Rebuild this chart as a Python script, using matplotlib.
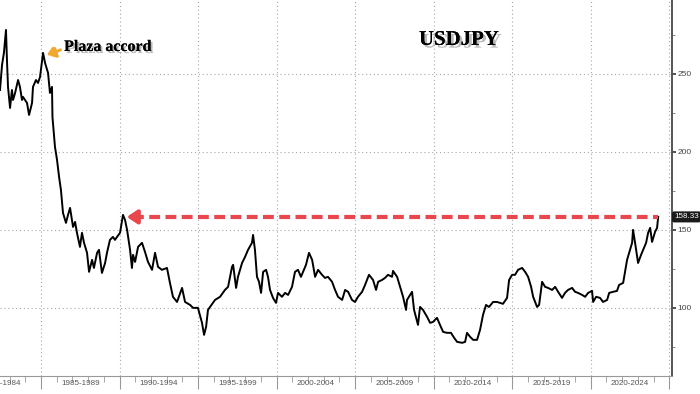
import numpy as np
import matplotlib
matplotlib.use("Agg")
import matplotlib.pyplot as plt
import matplotlib.patheffects as pe
from matplotlib.ticker import MultipleLocator, FixedLocator, NullFormatter

# USDJPY (fractional year, yen per dollar)
years = [1982.39, 1982.52, 1982.64, 1982.77, 1982.84, 1982.90, 1983.03, 1983.15, 1983.22, 1983.35,
         1983.54, 1983.66, 1983.79, 1983.85, 1984.11, 1984.24, 1984.43, 1984.49, 1984.68, 1984.81,
         1984.94, 1985.13, 1985.26, 1985.45, 1985.57, 1985.70, 1985.73, 1985.89, 1986.02, 1986.15,
         1986.27, 1986.40, 1986.59, 1986.72, 1986.85, 1987.04, 1987.17, 1987.29, 1987.48, 1987.61,
         1987.74, 1987.93, 1988.06, 1988.25, 1988.37, 1988.57, 1988.69, 1988.88, 1989.08, 1989.20,
         1989.39, 1989.58, 1989.71, 1989.84, 1990.03, 1990.22, 1990.35, 1990.48, 1990.67, 1990.79,
         1990.86, 1990.99, 1991.18, 1991.43, 1991.62, 1991.81, 1992.07, 1992.26, 1992.45, 1992.70,
         1993.02, 1993.21, 1993.40, 1993.66, 1993.98, 1994.17, 1994.49, 1994.68, 1994.99, 1995.25,
         1995.38, 1995.51, 1995.63, 1995.76, 1996.08, 1996.40, 1996.71, 1996.91, 1997.16, 1997.23,
         1997.42, 1997.54, 1997.80, 1997.99, 1998.18, 1998.43, 1998.50, 1998.62, 1998.75, 1998.88,
         1999.01, 1999.14, 1999.33, 1999.45, 1999.58, 1999.77, 1999.96, 2000.09, 2000.34, 2000.54,
         2000.73, 2000.98, 2001.17, 2001.36, 2001.55, 2001.68, 2001.87, 2002.06, 2002.26, 2002.45,
         2002.64, 2002.89, 2003.08, 2003.27, 2003.53, 2003.72, 2003.91, 2004.17, 2004.36, 2004.55,
         2004.80, 2004.99, 2005.18, 2005.44, 2005.63, 2005.88, 2006.14, 2006.33, 2006.46, 2006.71,
         2006.90, 2007.09, 2007.35, 2007.41, 2007.67, 2007.86, 2008.05, 2008.24, 2008.30, 2008.62,
         2008.75, 2009.00, 2009.13, 2009.32, 2009.58, 2009.77, 2009.96, 2010.21, 2010.40, 2010.60,
         2010.85, 2011.10, 2011.30, 2011.49, 2011.81, 2012.00, 2012.12, 2012.32, 2012.51, 2012.76,
         2012.95, 2013.14, 2013.33, 2013.52, 2013.78, 2014.03, 2014.22, 2014.41, 2014.67, 2014.80,
         2014.99, 2015.18, 2015.37, 2015.63, 2015.82, 2016.01, 2016.20, 2016.33, 2016.58, 2016.71,
         2016.90, 2017.09, 2017.28, 2017.54, 2017.73, 2017.92, 2018.17, 2018.36, 2018.55, 2018.81,
         2019.00, 2019.19, 2019.45, 2019.64, 2019.83, 2020.08, 2020.15, 2020.34, 2020.59, 2020.78,
         2021.04, 2021.17, 2021.42, 2021.67, 2021.80, 2022.06, 2022.18, 2022.31, 2022.44, 2022.63,
         2022.69, 2022.82, 2022.95, 2023.01, 2023.20, 2023.33, 2023.52, 2023.65, 2023.78, 2023.90,
         2024.09, 2024.22, 2024.29]
usdjpy = [239.7, 255.8, 263.5, 278.2, 257.0, 241.7, 228.2, 239.7, 233.3, 237.8,
          246.1, 241.7, 233.3, 235.3, 231.4, 223.7, 231.4, 241.7, 246.1, 244.2,
          248.1, 263.5, 257.0, 250.6, 237.8, 241.7, 222.4, 203.2, 194.9, 184.0,
          175.6, 160.9, 154.5, 159.6, 164.1, 151.9, 155.1, 148.1, 139.1, 148.1,
          141.7, 135.3, 123.1, 130.8, 125.6, 135.3, 137.2, 122.4, 128.8, 135.3,
          143.6, 145.5, 143.6, 145.5, 148.1, 159.6, 156.4, 150.0, 137.2, 125.6,
          134.0, 129.5, 139.1, 141.7, 135.9, 129.5, 124.4, 135.3, 126.3, 124.4,
          125.6, 116.0, 107.1, 103.8, 112.8, 103.8, 101.9, 100.0, 100.0, 90.4,
          82.7, 87.8, 98.7, 100.6, 105.1, 107.1, 111.5, 113.5, 126.3, 127.6,
          112.8, 119.9, 128.8, 132.7, 137.2, 141.7, 146.8, 137.2, 119.9, 116.7,
          109.6, 123.1, 124.4, 119.9, 111.5, 106.4, 103.2, 109.6, 107.1, 109.6,
          108.3, 113.5, 123.1, 124.4, 119.9, 123.1, 127.6, 135.3, 130.8, 119.9,
          124.4, 121.2, 119.2, 119.9, 116.7, 111.5, 107.1, 105.1, 111.5, 110.3,
          105.1, 103.8, 107.1, 110.3, 114.7, 121.2, 117.9, 111.5, 116.7, 117.9,
          119.2, 121.2, 119.9, 123.7, 119.9, 113.5, 107.1, 98.7, 105.1, 110.3,
          98.7, 89.1, 100.6, 98.7, 94.2, 90.4, 91.0, 93.6, 89.1, 84.6,
          84.0, 84.0, 80.8, 78.2, 77.6, 78.2, 84.0, 81.4, 79.5, 79.5,
          85.9, 95.5, 101.9, 100.6, 103.8, 103.8, 103.2, 102.6, 106.4, 117.9,
          121.2, 121.2, 124.4, 125.6, 123.1, 119.9, 113.5, 107.1, 100.6, 101.9,
          116.7, 113.5, 112.8, 111.5, 113.5, 110.3, 106.4, 109.6, 111.5, 112.8,
          110.3, 109.6, 108.3, 107.1, 109.6, 110.9, 103.8, 107.1, 106.4, 103.8,
          105.1, 109.6, 110.3, 110.9, 114.7, 116.0, 123.1, 130.8, 135.3, 141.7,
          150.0, 141.7, 132.7, 128.8, 134.0, 137.2, 141.7, 148.1, 151.3, 142.3,
          148.7, 151.3, 158.33]

period_starts = [1980, 1985, 1990, 1995, 2000, 2005, 2010, 2015, 2020]
period_labels = ["1980-1984", "1985-1989", "1990-1994", "1995-1999", "2000-2004",
                 "2005-2009", "2010-2014", "2015-2019", "2020-2024"]
y_ticks = [100, 150, 200, 250]

last_value = usdjpy[-1]
plaza_year, plaza_value = 1985.2, 261.5
peak_1990_year = 1990.28

fig = plt.figure(figsize=(7, 3.94), dpi=100)
ax = fig.add_axes([0.0, 0.046, 0.96, 0.954])

ax.plot(years, usdjpy, color="black", lw=1.4, zorder=3)

ax.set_xlim(1982.39, 2025.17)
ax.set_ylim(56.4, 297.4)

# grid + spines
ax.xaxis.set_major_locator(FixedLocator(period_starts + [2025]))
ax.xaxis.set_minor_locator(MultipleLocator(1))
ax.xaxis.set_major_formatter(NullFormatter())
ax.yaxis.tick_right()
ax.yaxis.set_major_locator(FixedLocator(y_ticks))
ax.yaxis.set_minor_locator(MultipleLocator(25))
ax.grid(which="major", color="#a8a8a8", lw=0.8, linestyle=(0, (1, 2.5)))
for s in ["left", "top"]:
    ax.spines[s].set_visible(False)
ax.spines["right"].set_color("#555555")
ax.spines["right"].set_linewidth(1.4)
ax.spines["bottom"].set_color("#999999")
ax.spines["bottom"].set_linewidth(0.8)

ax.tick_params(axis="x", which="major", length=9, width=0.8, color="#999999")
ax.tick_params(axis="x", which="minor", length=4, width=0.6, color="#999999")
ax.tick_params(axis="y", which="major", length=3, width=1.2, color="#333333",
               labelsize=6, labelcolor="#444444", pad=1)
ax.tick_params(axis="y", which="minor", length=2, width=0.6, color="#777777")
for lab in ax.get_yticklabels():
    lab.set_fontfamily("Liberation Sans")

xtr = ax.get_xaxis_transform()
for start, lab in zip(period_starts, period_labels):
    ax.text(start + 2.5, -0.012, lab, transform=xtr, ha="center", va="top",
            fontsize=5.8, color="#555555", family="Liberation Sans", clip_on=False)

# red dashed arrow back to the 1990 high
ax.plot([peak_1990_year + 0.6, years[-1]], [last_value, last_value], color="#e8484d",
        lw=3.0, linestyle=(0, (2.6, 1.3)), solid_capstyle="butt", zorder=4)
ax.annotate("", xy=(peak_1990_year, last_value), xytext=(peak_1990_year + 1.0, last_value),
            arrowprops=dict(arrowstyle="-|>,head_length=0.6,head_width=0.4",
                            color="#e8484d", lw=3.0), zorder=4)

# last value label
ax.text(1.003, last_value, f"{last_value:.2f}", transform=ax.get_yaxis_transform(),
        ha="left", va="center", fontsize=5.8, color="white", family="Liberation Sans",
        bbox=dict(boxstyle="round,pad=0.25", fc="#1a1a1a", ec="none"), clip_on=False)

# plaza accord
ax.annotate("", xy=(plaza_year, plaza_value), xytext=(1986.4, 266.0),
            arrowprops=dict(arrowstyle="-|>,head_length=0.5,head_width=0.35",
                            color="#f0a830", lw=2.2, linestyle=(0, (2, 1))))
ax.text(1986.47, 267.3, "Plaza accord", ha="left", va="center", fontsize=11.5,
        fontweight="bold", family="Liberation Serif", color="black",
        path_effects=[pe.withSimplePatchShadow(offset=(1.5, -1.5), shadow_rgbFace="#777777", alpha=0.5), pe.Normal()])

ax.text(0.683, 0.894, "USDJPY", transform=ax.transAxes, ha="center", va="center",
        fontsize=15, fontweight="bold", family="Liberation Serif", color="black",
        path_effects=[pe.withSimplePatchShadow(offset=(2, -2), shadow_rgbFace="#777777", alpha=0.5), pe.Normal()])

fig.savefig("out.png", dpi=100)
